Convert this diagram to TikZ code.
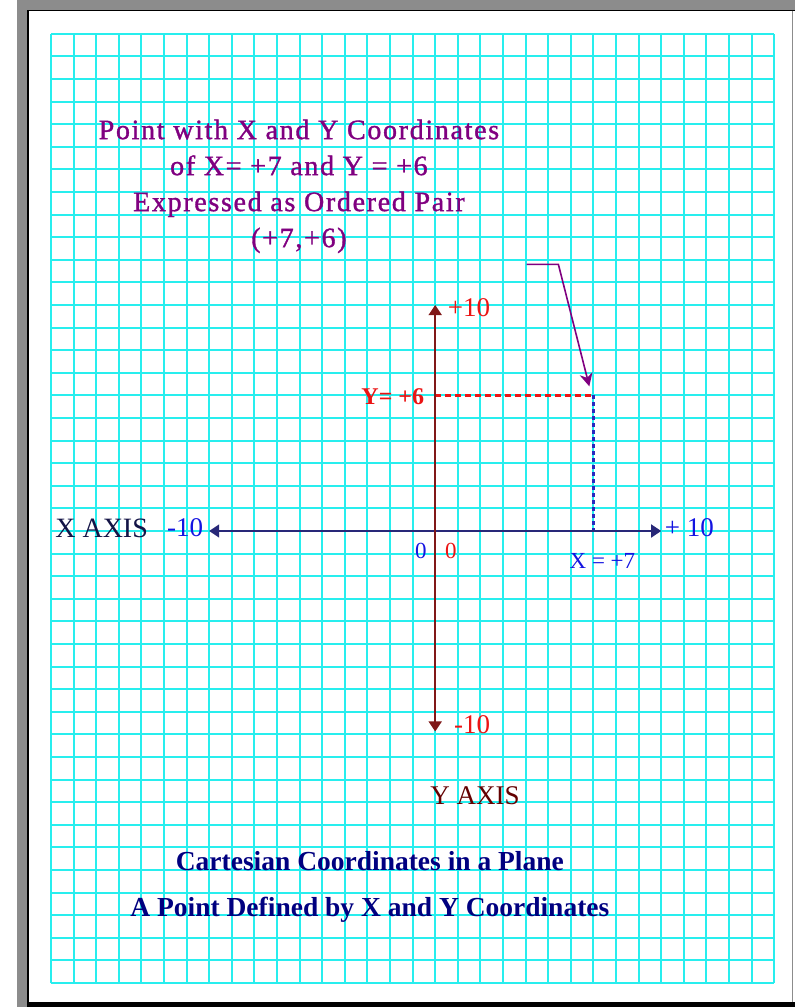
\documentclass[tikz,border=0pt]{standalone}
\usepackage{fontspec}
\setmainfont{Liberation Serif}
\newfontfamily\spacedfont[LetterSpace=6,FakeBold=1.2]{Liberation Serif}
\usetikzlibrary{arrows.meta}

\definecolor{gridcyan}{RGB}{40,238,238}
\definecolor{framegray}{RGB}{140,140,140}
\definecolor{yaxiscol}{RGB}{128,24,24}
\definecolor{xaxiscol}{RGB}{40,40,120}
\definecolor{lblred}{RGB}{235,20,20}
\definecolor{lblblue}{RGB}{20,20,225}
\definecolor{dashblue}{RGB}{40,40,190}
\definecolor{notepurple}{RGB}{128,0,128}
\definecolor{titlenavy}{RGB}{0,0,128}
\definecolor{xname}{RGB}{20,20,70}
\definecolor{yname}{RGB}{100,0,0}

\begin{document}
\begin{tikzpicture}[
  x=22.6pt, y=22.6pt,
  gridline/.style={draw=gridcyan, line width=2pt},
  axisline/.style={line width=1.6pt, {Triangle[length=10pt,width=13pt]}-{Triangle[length=10pt,width=13pt]}},
  lbl/.style={inner sep=0pt, font=\fontsize{27}{27}\selectfont},
  smalllbl/.style={inner sep=0pt, font=\fontsize{23}{23}\selectfont}
]
  \useasboundingbox (-19.257,-21.062) rectangle (15.920,23.496);

  % Marco de la hoja
  \fill[white] (-19.257,-21.062) rectangle (15.920,23.496);
  \fill[framegray] (-18.504,23.053) rectangle (15.920,23.496);
  \fill[framegray] (-18.504,-21.062) rectangle (-18.062,23.496);
  \draw[black, line width=1.5pt] (-18.02,-21.062) -- (-18.02,23.03) -- (15.920,23.03);
  \fill[black] (-18.062,-21.062) rectangle (15.920,-20.84);
  \draw[framegray, line width=1pt] (15.83,23.03) -- (15.83,-20.84);

  % Papel cuadriculado
  \draw[gridline, step={(1,1)}] (-17,-20) grid (15,22);

  % Puntos de los ejes
  \coordinate (xmin) at (-10,0);
  \coordinate (xmax) at (10,0);
  \coordinate (ymin) at (0,-8.87);
  \coordinate (ymax) at (0,10);
  \coordinate (yval) at (0,6);
  \coordinate (xval) at (7,0);
  \coordinate (pt) at (7,6);

  % Lineas de las coordenadas
  \draw[draw=lblred, line width=2.4pt, dash pattern=on 6pt off 4pt] (yval) -- (pt);
  \draw[draw=dashblue, line width=2.4pt, dash pattern=on 4pt off 3pt] (pt) -- (xval);

  % Ejes
  \draw[axisline, draw=xaxiscol] (xmin) -- (xmax);
  \draw[axisline, draw=yaxiscol] (ymin) -- (ymax);

  % Flecha hacia el punto
  \coordinate (arrowstart) at (4.05,11.8);
  \coordinate (arrowbend) at (5.45,11.8);
  \coordinate (arrowtip) at (6.82,6.4);
  \draw[notepurple, line width=1.6pt, -{Stealth[length=13pt,width=13pt]}] (arrowstart) -- (arrowbend) -- (arrowtip);

  % Etiquetas del eje Y
  \node[lbl, text=lblred, anchor=west] (ytop) at (0.55,9.9) {+10};
  \node[lbl, text=lblred, anchor=west] (ybot) at (0.83,-8.58) {-10};
  \node[inner sep=0pt, font=\bfseries\fontsize{24}{24}\selectfont, text=lblred, anchor=east] (ylbl) at (-0.48,5.93) {Y= +6};
  \node[lbl, text=yname] (yname) at (1.76,-11.73) {Y AXIS};

  % Etiquetas del eje X
  \node[lbl, text=xname, font=\fontsize{28}{28}\selectfont] (xname) at (-14.76,0.13) {X AXIS};
  \node[lbl, text=lblblue] (xleft) at (-11.07,0.13) {-10};
  \node[lbl, text=lblblue] (xright) at (11.25,0.15) {+ 10};
  \node[smalllbl, text=lblblue] (xzero) at (-0.63,-0.87) {0};
  \node[smalllbl, text=lblred] (yzero) at (0.69,-0.87) {0};
  \node[smalllbl, text=lblblue] (xlbl) at (7.40,-1.33) {X = +7};

  % Textos
  \node[font=\spacedfont\fontsize{28}{36}\selectfont, text=notepurple, align=center] (note) at (-6.03,15.25)
    {Point with X and Y Coordinates\\of X= +7 and Y = +6\\Expressed as Ordered Pair\\(+7,+6)};
  \node[font=\bfseries\fontsize{27.5}{46}\selectfont, text=titlenavy, align=center] (caption) at (-2.89,-15.75)
    {Cartesian Coordinates in a Plane\\A Point Defined by X and Y Coordinates};
\end{tikzpicture}
\end{document}
